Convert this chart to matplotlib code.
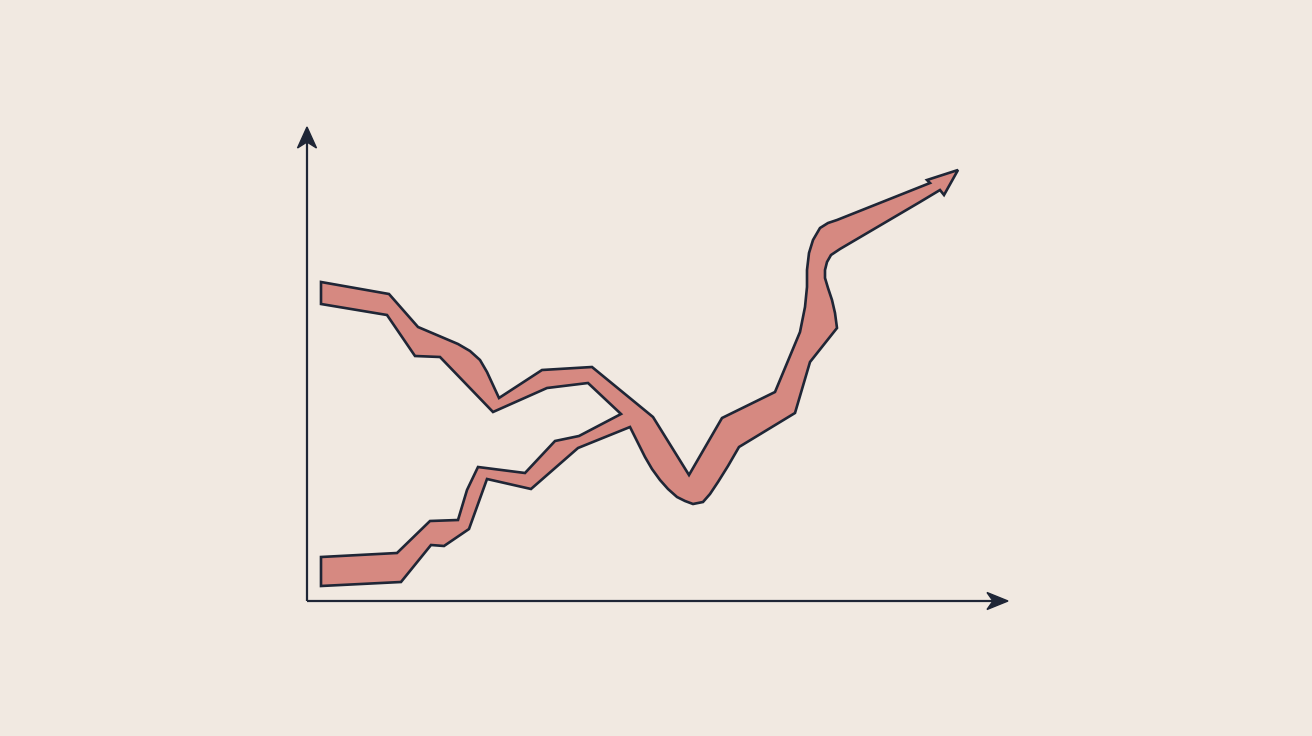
import numpy as np
import matplotlib
matplotlib.use("Agg")
import matplotlib.pyplot as plt

# background / colours
BG = "#F1E9E1"
FILL = "#D68981"
INK = "#1F2636"

# ribbon outline (pixel units, y down)
# upper band top edge, continuing as the merged band's top edge up to the arrow
top_x = [321, 389, 418, 458, 470, 480, 487, 499, 542, 592, 653, 689, 722, 775,
         800, 805, 807, 807, 809, 813, 820, 828, 837, 930]
top_y = [282, 294, 327, 344, 351, 360, 372, 398, 370, 367, 417, 475, 418, 392,
         332, 307, 287, 270, 253, 240, 228, 223, 220, 183]
# arrow head at the end of the ribbon
head_x = [927, 958, 944, 940]
head_y = [180, 170, 195, 190]
# merged band bottom edge, running back down to the merge point
merged_bot_x = [920, 840, 831, 827, 825, 825, 828, 832, 835, 837, 810, 795, 739,
                728, 718, 710, 703, 693, 685, 677, 668, 660, 652, 645, 630]
merged_bot_y = [202, 249, 255, 262, 270, 278, 288, 300, 313, 328, 362, 413, 447,
                466, 482, 494, 502, 504, 501, 497, 489, 480, 469, 457, 427]
# lower band bottom edge, right to left
lower_bot_x = [578, 531, 487, 469, 444, 431, 401, 321]
lower_bot_y = [448, 489, 479, 529, 546, 545, 582, 586]
# lower band top edge, left to right up to the crotch
lower_top_x = [321, 397, 430, 458, 467, 478, 525, 555, 579, 621]
lower_top_y = [557, 553, 521, 520, 490, 467, 473, 441, 436, 414]
# upper band bottom edge, right to left
upper_bot_x = [588, 547, 493, 440, 415, 387, 321]
upper_bot_y = [383, 388, 412, 357, 356, 315, 304]

# axes of the sketch
origin = (307, 601)
y_tip = (307, 127)
x_tip = (1008, 601)

fig = plt.figure(figsize=(13.12, 7.36), dpi=100, facecolor=BG)
ax = fig.add_axes([0, 0, 1, 1])
ax.set_xlim(0, 1312)
ax.set_ylim(736, 0)
ax.set_facecolor(BG)
ax.axis("off")

xs = top_x + head_x + merged_bot_x + lower_bot_x + lower_top_x + upper_bot_x
ys = top_y + head_y + merged_bot_y + lower_bot_y + lower_top_y + upper_bot_y
ax.fill(xs, ys, facecolor=FILL, edgecolor=INK, linewidth=1.9, joinstyle="miter", zorder=2)


def arrow_head(tip, direction, length=21, half_w=9, notch=6):
    d = np.array(direction, float)
    d /= np.linalg.norm(d)
    n = np.array([-d[1], d[0]])
    t = np.array(tip, float)
    base = t - d * length
    pts = [t, base + n * half_w, t - d * (length - notch), base - n * half_w]
    ax.fill([p[0] for p in pts], [p[1] for p in pts], color=INK, zorder=3)


ax.plot([origin[0], y_tip[0]], [origin[1], y_tip[1] + 12], color=INK, lw=1.6,
        solid_capstyle="butt", zorder=3)
ax.plot([origin[0], x_tip[0] - 12], [origin[1], x_tip[1]], color=INK, lw=1.6,
        solid_capstyle="butt", zorder=3)
arrow_head(y_tip, (0, -1), length=21, half_w=9.5)
arrow_head(x_tip, (1, 0), length=21, half_w=8.5)

fig.savefig("out.png", dpi=100, facecolor=BG)
